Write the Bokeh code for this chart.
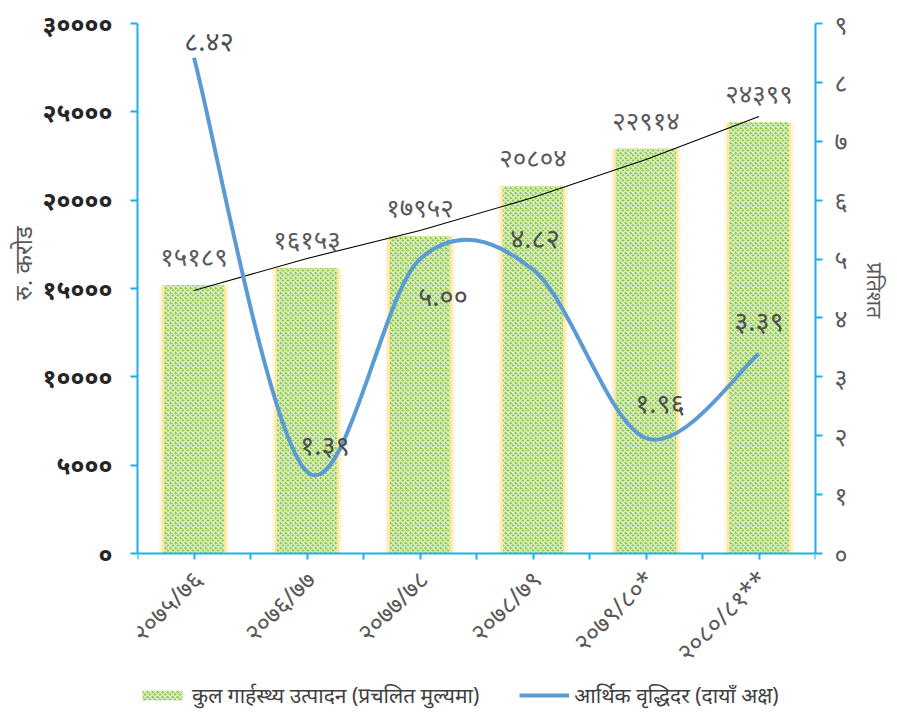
import numpy as np
from bokeh.plotting import figure
from bokeh.models import (ColumnDataSource, Range1d, LinearAxis, FixedTicker,
                          Legend, LegendItem, Title)
from bokeh.embed import file_html
from bokeh.resources import INLINE
from bokeh.core.properties import value

# ---------------- data ----------------
years = ["२०७५/७६", "२०७६/७७", "२०७७/७८", "२०७८/७९", "२०७९/८०*", "२०८०/८१**"]
gdp = [15189, 16153, 17952, 20804, 22914, 24399]
gdp_labels = ["१५१८९", "१६१५३", "१७९५२", "२०८०४", "२२९१४", "२४३९९"]
growth = [8.42, 1.39, 5.00, 4.82, 1.96, 3.39]
growth_labels = ["८.४२", "१.३९", "५.००", "४.८२", "१.९६", "३.३९"]
trend = [14890, 16700, 18280, 20150, 22300, 24740]
left_ticks = [0, 5000, 10000, 15000, 20000, 25000, 30000]
left_tick_labels = ["०", "५०००", "१००००", "१५०००", "२००००", "२५०००", "३००००"]
right_ticks = [0, 1, 2, 3, 4, 5, 6, 7, 8, 9]
right_tick_labels = ["०", "१", "२", "३", "४", "५", "६", "७", "८", "९"]
legend_labels = ["कुल गार्हस्थ्य उत्पादन (प्रचलित मुल्यमा)", "आर्थिक वृद्धिदर (दायाँ अक्ष)"]
y_title_left = "रु. करोड"
y_title_right = "प्रतिशत"

# label placement offsets (screen px) for growth labels
g_dx = [15, 18, 23, 2, 14, 0]
g_dy = [-17, -27, 36, -32, -36, -33]

FONT = "Noto Sans"
AXIS_BLUE = "#1CB0EC"
LINE_BLUE = "#5B9BD5"

# layout: value axes span 530px; frame extends 158px below zero for labels + legend
PLOT_H = 530
EXTRA_H = 158
L_MAX, R_MAX = 30000, 9

x = list(range(len(years)))

p = figure(frame_width=678, frame_height=PLOT_H + EXTRA_H,
           x_range=Range1d(-0.5, 5.5),
           y_range=Range1d(-L_MAX * EXTRA_H / PLOT_H, L_MAX),
           x_axis_location="above",
           output_backend="svg", toolbar_location=None,
           min_border_left=137, min_border_top=23, min_border_right=78,
           min_border_bottom=0)
p.extra_y_ranges = {"right": Range1d(-R_MAX * EXTRA_H / PLOT_H, R_MAX)}
p.xgrid.visible = False
p.ygrid.visible = False
p.outline_line_color = None
p.background_fill_color = "white"

src = ColumnDataSource(dict(x=x, gdp=gdp, lab=gdp_labels, trend=trend,
                            yr=years, zero=[0] * len(years)))

# glow behind bars
p.vbar(x="x", top="gdp", width=0.61, source=src, fill_color="#FFE699",
       fill_alpha=0.4, line_color=None)
p.vbar(x="x", top="gdp", width=0.565, source=src, fill_color="#FFD966",
       fill_alpha=0.55, line_color=None)
bars = p.vbar(x="x", top="gdp", width=0.53, source=src, fill_color="#8FCB4A",
              line_color=None, hatch_pattern="diagonal_cross",
              hatch_color="white", hatch_weight=1.3, hatch_scale=5, hatch_alpha=0.8)

# trend line
p.line(x="x", y="trend", source=src, line_color="black", line_width=1.1)

# smooth growth curve (Excel-like smoothing via cubic Bezier)
gx = np.array(x, dtype=float)
gy = np.array(growth, dtype=float)
n = len(gx)
x0, y0, x1, y1, cx0, cy0, cx1, cy1 = ([] for _ in range(8))
for i in range(n - 1):
    pm = i - 1 if i > 0 else i
    pp = i + 2 if i + 2 < n else i + 1
    x0.append(gx[i]); y0.append(gy[i]); x1.append(gx[i + 1]); y1.append(gy[i + 1])
    cx0.append(gx[i] + (gx[i + 1] - gx[pm]) / 6); cy0.append(gy[i] + (gy[i + 1] - gy[pm]) / 6)
    cx1.append(gx[i + 1] - (gx[pp] - gx[i]) / 6); cy1.append(gy[i + 1] - (gy[pp] - gy[i]) / 6)
curve = p.bezier(x0=x0, y0=y0, x1=x1, y1=y1, cx0=cx0, cy0=cy0, cx1=cx1, cy1=cy1,
                 y_range_name="right", line_color=LINE_BLUE, line_width=4)

# bar labels
p.text(x="x", y="gdp", text="lab", source=src, y_offset=-11,
       text_align="center", text_baseline="bottom", text_color="#595959",
       text_font=value(FONT), text_font_size="26px")

# growth labels
gsrc = ColumnDataSource(dict(x=x, y=growth, lab=growth_labels, dx=g_dx, dy=g_dy))
p.text(x="x", y="y", text="lab", source=gsrc, x_offset="dx", y_offset="dy",
       y_range_name="right", text_align="center", text_baseline="middle",
       text_color="#4D4D4D", text_font=value(FONT), text_font_size="27px")

# category labels (rotated 45 degrees, under each category)
p.text(x="x", y="zero", text="yr", source=src, angle=np.pi / 4,
       x_offset=3, y_offset=21, text_align="right", text_baseline="middle",
       text_color="#595959", text_font=value(FONT), text_font_size="25px")

# axes styling
def style_axis(ax):
    ax.axis_line_color = AXIS_BLUE
    ax.axis_line_width = 2
    ax.major_tick_line_color = AXIS_BLUE
    ax.major_tick_line_width = 2
    ax.major_tick_in = 0
    ax.major_tick_out = 7
    ax.minor_tick_line_color = None
    ax.major_label_text_font = FONT

yl = p.yaxis[0]
style_axis(yl)
yl.bounds = (0, L_MAX)
yl.ticker = FixedTicker(ticks=left_ticks)
yl.major_label_overrides = {t: l for t, l in zip(left_ticks, left_tick_labels)}
yl.major_label_text_font_size = "25px"
yl.major_label_text_color = "#262626"
yl.major_label_text_font_style = "bold"
yl.major_label_standoff = 18

yr = LinearAxis(y_range_name="right")
p.add_layout(yr, "right")
style_axis(yr)
yr.bounds = (0, R_MAX)
yr.ticker = FixedTicker(ticks=right_ticks)
yr.major_label_overrides = {t: l for t, l in zip(right_ticks, right_tick_labels)}
yr.major_label_text_font_size = "25px"
yr.major_label_text_color = "#595959"
yr.major_label_standoff = 12

# axis titles (side titles, shifted along the axis to sit beside the value range)
p.add_layout(Title(text=y_title_left, align="left", offset=411,
                   text_font=FONT, text_font_size="24px", text_font_style="normal",
                   text_color="#595959", standoff=2), "left")
p.add_layout(Title(text=y_title_right, align="left", offset=239,
                   text_font=FONT, text_font_size="21px", text_font_style="normal",
                   text_color="#595959", standoff=20), "right")

# category axis: line and ticks at value zero
xa = p.xaxis[0]
style_axis(xa)
xa.fixed_location = 0
xa.major_tick_out = 0
xa.major_tick_in = 6
xticks = [i * 0.5 - 0.5 for i in range(13)]
xa.ticker = FixedTicker(ticks=xticks)
xa.major_label_overrides = {t: "" for t in xticks}
xa.major_label_text_font_size = "1px"
xa.major_label_standoff = 0

legend = Legend(items=[LegendItem(label=legend_labels[0], renderers=[bars]),
                       LegendItem(label=legend_labels[1], renderers=[curve])],
                orientation="horizontal", location=(0, 2),
                label_text_font=FONT, label_text_font_size="21px",
                label_text_color="#404040", glyph_width=50, glyph_height=12,
                label_standoff=5, spacing=40, border_line_color=None,
                background_fill_alpha=0, padding=0, margin=0)
p.add_layout(legend, "center")

open("out.html", "w").write(file_html(p, INLINE))
